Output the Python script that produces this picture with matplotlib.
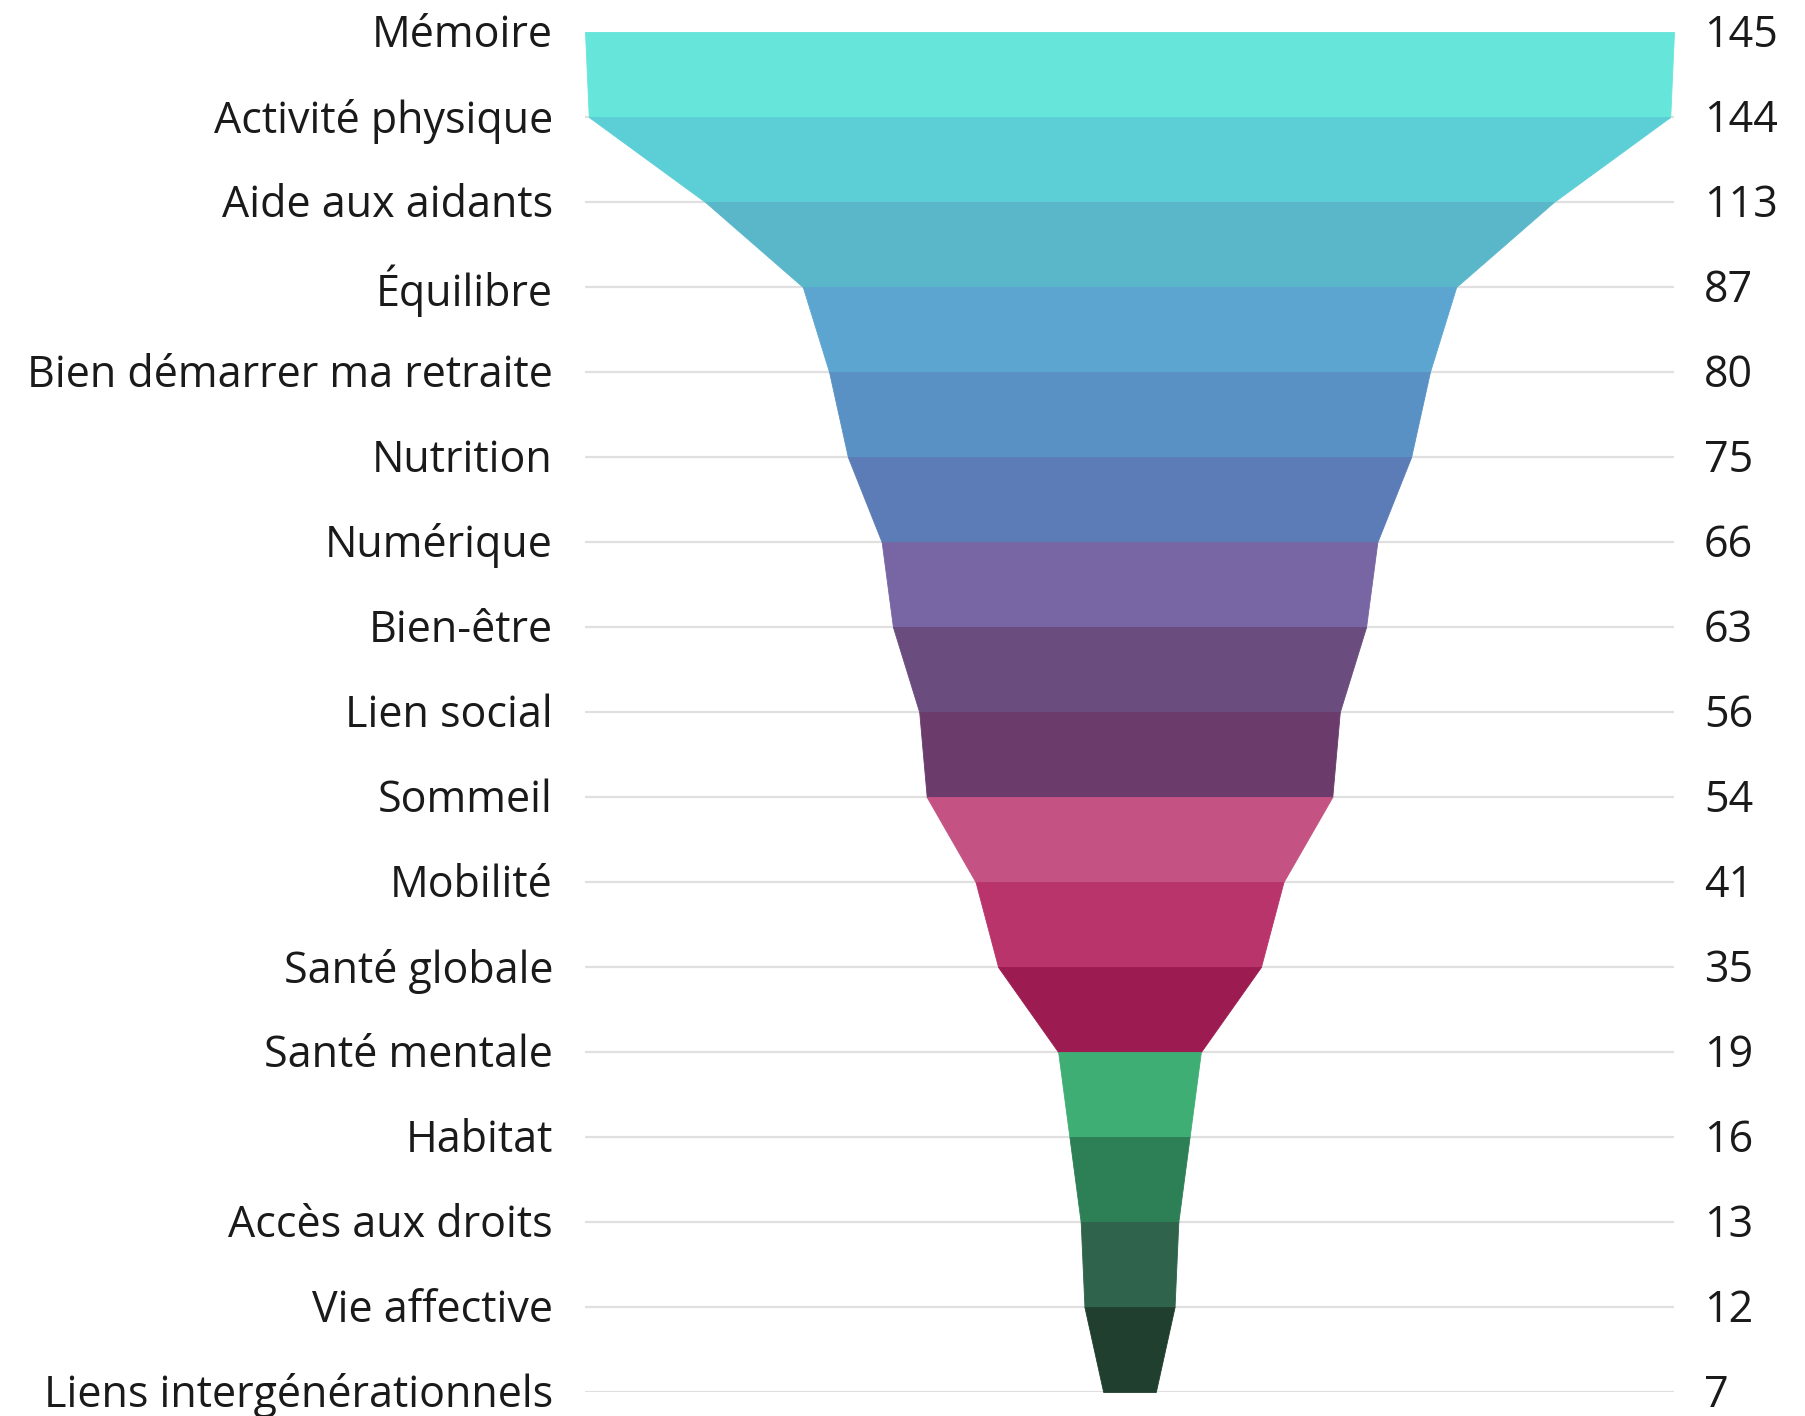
import numpy as np
import matplotlib
matplotlib.use("Agg")
import matplotlib.pyplot as plt
from matplotlib.transforms import blended_transform_factory, offset_copy

categories = ["Mémoire", "Activité physique", "Aide aux aidants", "Équilibre",
              "Bien démarrer ma retraite", "Nutrition", "Numérique", "Bien-être",
              "Lien social", "Sommeil", "Mobilité", "Santé globale", "Santé mentale",
              "Habitat", "Accès aux droits", "Vie affective", "Liens intergénérationnels"]
values = [145, 144, 113, 87, 80, 75, 66, 63, 56, 54, 41, 35, 19, 16, 13, 12, 7]
colors = ["#66E6DB", "#5CCFD6", "#5AB7C9", "#5CA5D0", "#5A91C4", "#5C7CB7",
          "#7766A3", "#6A4C7E", "#6A3B6B", "#C45282", "#B8346B", "#9C1C51",
          "#3FAE74", "#2D8055", "#30634B", "#213F2F"]

W, H = 1806, 1416
fig = plt.figure(figsize=(W / 100, H / 100), dpi=100)
left_px, right_px, top_px, bot_px = 585, 1674, 32, 1392
ax = fig.add_axes([left_px / W, 1 - bot_px / H, (right_px - left_px) / W, (bot_px - top_px) / H])

n = len(values)
vmax = max(values)
half = np.array(values, dtype=float) / 2.0
ys = np.arange(n, dtype=float)

for i in range(n):
    ax.plot([-vmax / 2, vmax / 2], [ys[i], ys[i]], color="#E0E0E0", lw=1.6, zorder=1,
            solid_capstyle="butt")

for i in range(n - 1):
    yy = [ys[i], ys[i + 1]]
    hw = np.array([half[i], half[i + 1]])
    ax.fill_betweenx(yy, -hw, hw, color=colors[i], lw=0.6, edgecolor=colors[i], zorder=2)

ax.set_xlim(-vmax / 2, vmax / 2)
ax.set_ylim(n - 1, 0)
ax.axis("off")

font = ["Open Sans", "DejaVu Sans"]
tr = blended_transform_factory(ax.transAxes, ax.transData)
tr = offset_copy(tr, fig=fig, x=0, y=-4, units="dots")
lx = (553 - left_px) / (right_px - left_px)
rx = (1704 - left_px) / (right_px - left_px)
for i in range(n):
    ax.text(lx, ys[i], categories[i], transform=tr, ha="right", va="center",
            fontsize=31, family=font, color="#1a1a1a", clip_on=False)
    ax.text(rx, ys[i], str(values[i]), transform=tr, ha="left", va="center",
            fontsize=31, family=font, color="#1a1a1a", clip_on=False)

fig.savefig("out.png", dpi=100, facecolor="white")
